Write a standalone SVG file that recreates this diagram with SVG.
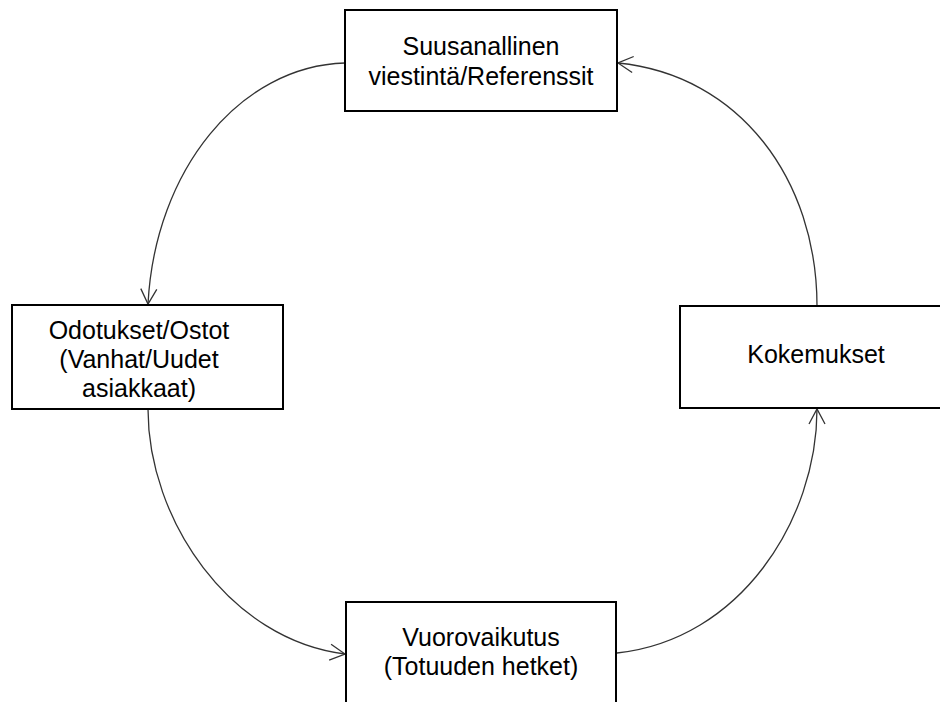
<svg xmlns="http://www.w3.org/2000/svg" width="940" height="702" viewBox="0 0 940 702">
<style>
.box{fill:#fff;stroke:#000;stroke-width:2}
.lbl{font-family:"Liberation Sans",Arial,sans-serif;font-size:25px;fill:#000;text-anchor:middle}
.con{fill:none;stroke:#333;stroke-width:1.3;marker-end:url(#arr)}
</style>
<defs>
<marker id="arr" markerUnits="userSpaceOnUse" markerWidth="18" markerHeight="18" viewBox="0 0 16 18" refX="15" refY="9" orient="auto">
<path d="M0,1 L15,9 L0,17" fill="none" stroke="#333" stroke-width="1.3"/>
</marker>
</defs>
<rect width="940" height="702" fill="#fff"/>
<g id="connectors">
<path class="con" d="M345,63 C240,66 155,170 148,304"/>
<path class="con" d="M148,409 C148,520 230,640 345,654"/>
<path class="con" d="M617,653 C740,640 817,520 817,409"/>
<path class="con" d="M817,306 C817,180 740,75 618,63"/>
</g>
<g id="node-suusanallinen">
<rect class="box" x="345" y="10" width="272" height="101"/>
<text class="lbl" x="481" y="55">Suusanallinen</text>
<text class="lbl" x="481" y="85">viestintä/Referenssit</text>
</g>
<g id="node-odotukset">
<rect class="box" x="12" y="305" width="271" height="104"/>
<text class="lbl" x="139" y="339">Odotukset/Ostot</text>
<text class="lbl" x="139" y="368">(Vanhat/Uudet</text>
<text class="lbl" x="139" y="397">asiakkaat)</text>
</g>
<g id="node-kokemukset">
<rect class="box" x="680" y="306" width="272" height="102"/>
<text class="lbl" x="816" y="363">Kokemukset</text>
</g>
<g id="node-vuorovaikutus">
<rect class="box" x="346" y="602" width="270" height="110"/>
<text class="lbl" x="481" y="646">Vuorovaikutus</text>
<text class="lbl" x="481" y="675">(Totuuden hetket)</text>
</g>
</svg>
